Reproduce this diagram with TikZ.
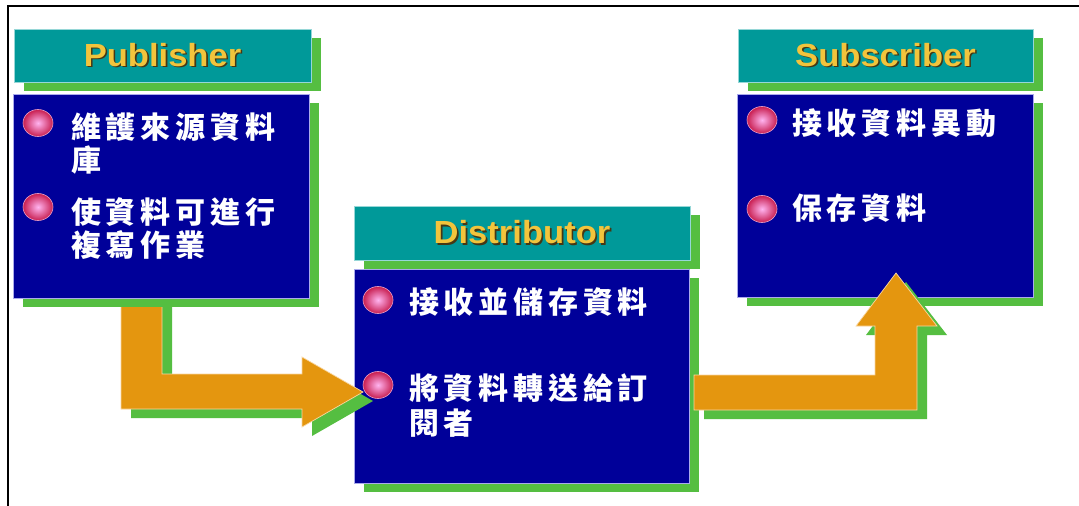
\documentclass[tikz,border=0pt]{standalone}
\usepackage{fontspec}
\usepackage{graphicx}
\usetikzlibrary{shadows,shapes.geometric}
\newfontfamily\cjk{Noto Sans CJK TC}[LetterSpace=16]
\newfontfamily\ttlfont{Liberation Sans}
\definecolor{tealbox}{RGB}{0,153,153}
\definecolor{shgreen}{RGB}{85,190,65}
\definecolor{bodyblue}{RGB}{0,0,153}
\definecolor{arrorange}{RGB}{228,150,15}
\definecolor{arredge}{RGB}{250,215,160}
\definecolor{gold}{RGB}{242,196,60}
\definecolor{goldshadow}{RGB}{70,55,20}
\definecolor{rimred}{RGB}{200,30,80}
\definecolor{pinkcore}{RGB}{255,180,240}
\definecolor{boxedge}{RGB}{170,170,235}
\definecolor{tealedge}{RGB}{150,215,215}
\newcommand{\ttl}[1]{\scalebox{1.08}[1]{\ttlfont\bfseries\fontsize{32}{32}\selectfont\rlap{\hspace{1.5pt}\raisebox{-1.5pt}{\color{goldshadow}#1}}\color{gold}#1}}
\tikzset{
  gshadow/.style={drop shadow={shadow xshift=10pt,shadow yshift=-9pt,fill=shgreen,opacity=1}},
  titlebox/.style={rectangle,fill=tealbox,draw=tealedge,line width=0.8pt,inner sep=0pt,minimum height=53pt,gshadow},
  bodybox/.style={rectangle,fill=bodyblue,draw=boxedge,line width=0.8pt,inner sep=0pt,gshadow},
  bulletdot/.style={ellipse,inner sep=0pt,minimum width=30pt,minimum height=27pt,inner color=pinkcore,outer color=rimred,draw={rgb,255:red,235;green,160;blue,200},line width=0.6pt},
  itemtext/.style={anchor=west,inner sep=0pt,text=white,font=\cjk\bfseries\fontsize{30}{30}\selectfont},
  blockarrow/.style={fill=arrorange,draw=arredge,line width=0.7pt,line join=miter},
  arrowshade/.style={fill=shgreen}
}
\begin{document}
\begin{tikzpicture}[x=1pt,y=-1pt]
\useasboundingbox (0,0) rectangle (1079,506);
\fill[white] (0,0) rectangle (1079,506);
\draw[line width=2pt] (8,507) -- (8,6) -- (1080,6);

% Subscriber
\node[titlebox,minimum width=295pt] (subT) at (885.5,55.5) {\ttl{Subscriber}};
\node[bodybox,minimum width=296pt,minimum height=203pt] (subB) at (885,195.5) {};

% Distributor
\node[titlebox,minimum width=336pt,minimum height=54pt] (disT) at (522,233) {\ttl{Distributor}};
\node[bodybox,minimum width=335pt,minimum height=214pt] (disB) at (521.5,376) {};

% Arrow shadows
\fill[arrowshade,shift={(10,9)}] (121,298) -- (162,298) -- (162,374) -- (302,374) -- (302,357) -- (363,392) -- (302,427) -- (302,409) -- (121,409) -- cycle;
\fill[arrowshade,shift={(10,9)}] (694,375) -- (875,375) -- (875,326) -- (856,326) -- (896,273) -- (937,326) -- (917,326) -- (917,410) -- (694,410) -- cycle;
% Arrows
\path[blockarrow] (121,298) -- (162,298) -- (162,374) -- (302,374) -- (302,357) -- (363,392) -- (302,427) -- (302,409) -- (121,409) -- cycle;
\path[blockarrow] (694,375) -- (875,375) -- (875,326) -- (856,326) -- (896,273) -- (937,326) -- (917,326) -- (917,410) -- (694,410) -- cycle;

% Publisher
\node[titlebox,minimum width=297pt] (pubT) at (162.5,55.5) {\ttl{Publisher}};
\node[bodybox,minimum width=296pt,minimum height=204pt] (pubB) at (161,196) {};

% Bullets
\node[bulletdot] (pb1) at (38,123) {};
\node[bulletdot] (pb2) at (38,207) {};
\node[bulletdot] (db1) at (378,300) {};
\node[bulletdot] (db2) at (378,385) {};
\node[bulletdot] (sb1) at (762,120) {};
\node[bulletdot] (sb2) at (762,209) {};

% Texts
\node[itemtext] (pt1) at (71,127) {維護來源資料};
\node[itemtext] (pt2) at (71,160) {庫};
\node[itemtext] (pt3) at (71,212) {使資料可進行};
\node[itemtext] (pt4) at (71,245) {複寫作業};
\node[itemtext] (dt1) at (409,302) {接收並儲存資料};
\node[itemtext] (dt2) at (409,388) {將資料轉送給訂};
\node[itemtext] (dt3) at (409,423) {閱者};
\node[itemtext] (st1) at (792,123) {接收資料異動};
\node[itemtext] (st2) at (792,208) {保存資料};
\end{tikzpicture}
\end{document}
